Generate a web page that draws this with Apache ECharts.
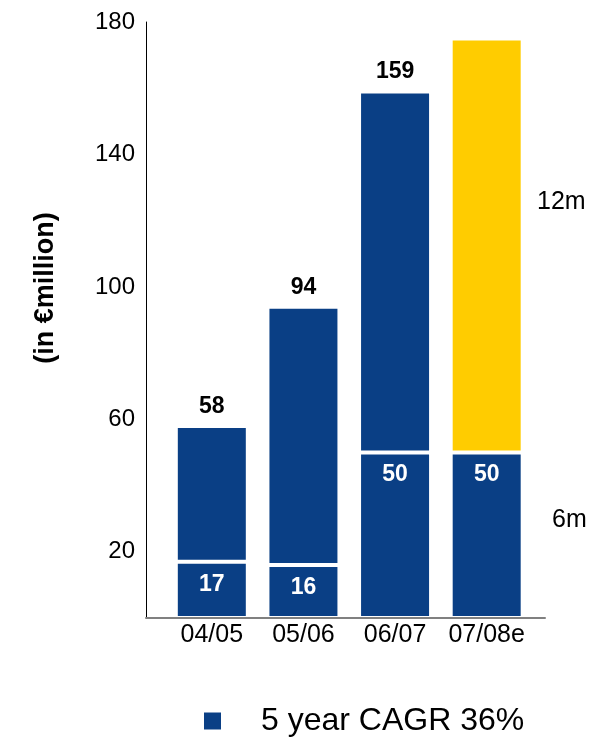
<!DOCTYPE html>
<html>
<head>
<meta charset="utf-8">
<script src="https://cdn.jsdelivr.net/npm/echarts@6/dist/echarts.min.js"></script>
<style>html,body{margin:0;padding:0;background:#fff}#c{width:607px;height:738px}</style>
</head>
<body>
<div id="c"></div>
<script>
var categories = ['04/05', '05/06', '06/07', '07/08e'];
var baseValues = [17, 16, 50, 50];
var totals = [58, 94, 159, 175];
var totalLabels = ['58', '94', '159', ''];
var yTickLabels = [20, 60, 100, 140, 180];
var legendName = '5 year CAGR 36%';
var yAxisTitle = '(in €million)';
var sideNotes = ['12m', '6m'];

var NAVY = '#0A3F85', YELLOW = '#FFCC00';
var FONT = '"Liberation Sans", Arial, sans-serif';

var topData = totals.map(function (t, i) {
  var item = { value: t - baseValues[i] };
  if (i === 3) { item.itemStyle = { color: YELLOW }; item.label = { show: false }; }
  return item;
});

var chart = echarts.init(document.getElementById('c'), null, { renderer: 'canvas' });
chart.setOption({
  animation: false,
  textStyle: { fontFamily: FONT },
  grid: [
    { left: 166, right: 74.5, top: 22, bottom: 120, containLabel: false },
    { left: 146, right: 62, top: 22, bottom: 120, containLabel: false }
  ],
  xAxis: [
    {
      type: 'category', gridIndex: 0, data: categories,
      axisLine: { show: false }, axisTick: { show: false }, splitLine: { show: false },
      axisLabel: { interval: 0, hideOverlap: false, color: '#000', fontSize: 25, margin: 5, fontFamily: FONT }
    },
    {
      type: 'value', gridIndex: 1, min: 0, max: 1, z: 5,
      axisLine: { show: true, onZero: false, lineStyle: { color: '#808080', width: 2 } },
      axisTick: { show: false }, axisLabel: { show: false }, splitLine: { show: false }
    }
  ],
  yAxis: [
    {
      type: 'value', gridIndex: 0, min: 0, max: 180,
      axisLine: { show: false }, axisTick: { show: false }, axisLabel: { show: false }, splitLine: { show: false }
    },
    {
      type: 'value', gridIndex: 1, min: 0, max: 180,
      axisLine: { show: true, onZero: false, lineStyle: { color: '#000', width: 1 } },
      axisTick: { show: false },
      splitLine: { show: false },
      axisLabel: { customValues: yTickLabels, color: '#000', fontSize: 24, margin: 11, fontFamily: FONT }
    }
  ],
  legend: {
    data: [legendName],
    left: 197, top: 700,
    icon: 'rect', itemWidth: 19, itemHeight: 19,
    textStyle: { fontSize: 32, color: '#000', padding: [0, 0, 0, 34], fontFamily: FONT }
  },
  graphic: [
    { type: 'text', x: 46, y: 288, rotation: Math.PI / 2,
      style: { text: yAxisTitle, font: 'bold 27px ' + FONT, fill: '#000', align: 'center', verticalAlign: 'middle' } },
    { type: 'text', x: 537, y: 202,
      style: { text: sideNotes[0], font: '25px ' + FONT, fill: '#000', align: 'left', verticalAlign: 'middle' } },
    { type: 'text', x: 552, y: 520,
      style: { text: sideNotes[1], font: '25px ' + FONT, fill: '#000', align: 'left', verticalAlign: 'middle' } }
  ],
  series: [
    {
      name: legendName, type: 'bar', stack: 's', barWidth: 72, xAxisIndex: 0, yAxisIndex: 0,
      data: baseValues,
      itemStyle: { color: NAVY, borderColor: '#fff', borderWidth: 2 },
      label: { show: true, position: 'insideTop', distance: 11, color: '#fff', fontWeight: 'bold', fontSize: 23, fontFamily: FONT }
    },
    {
      name: 'growth', type: 'bar', stack: 's', barWidth: 72, xAxisIndex: 0, yAxisIndex: 0,
      data: topData,
      itemStyle: { color: NAVY, borderColor: '#fff', borderWidth: 2 },
      label: {
        show: true, position: 'top', distance: 8, color: '#000', fontWeight: 'bold', fontSize: 23, fontFamily: FONT,
        formatter: function (p) { return totalLabels[p.dataIndex]; }
      }
    }
  ]
});
</script>
</body>
</html>
